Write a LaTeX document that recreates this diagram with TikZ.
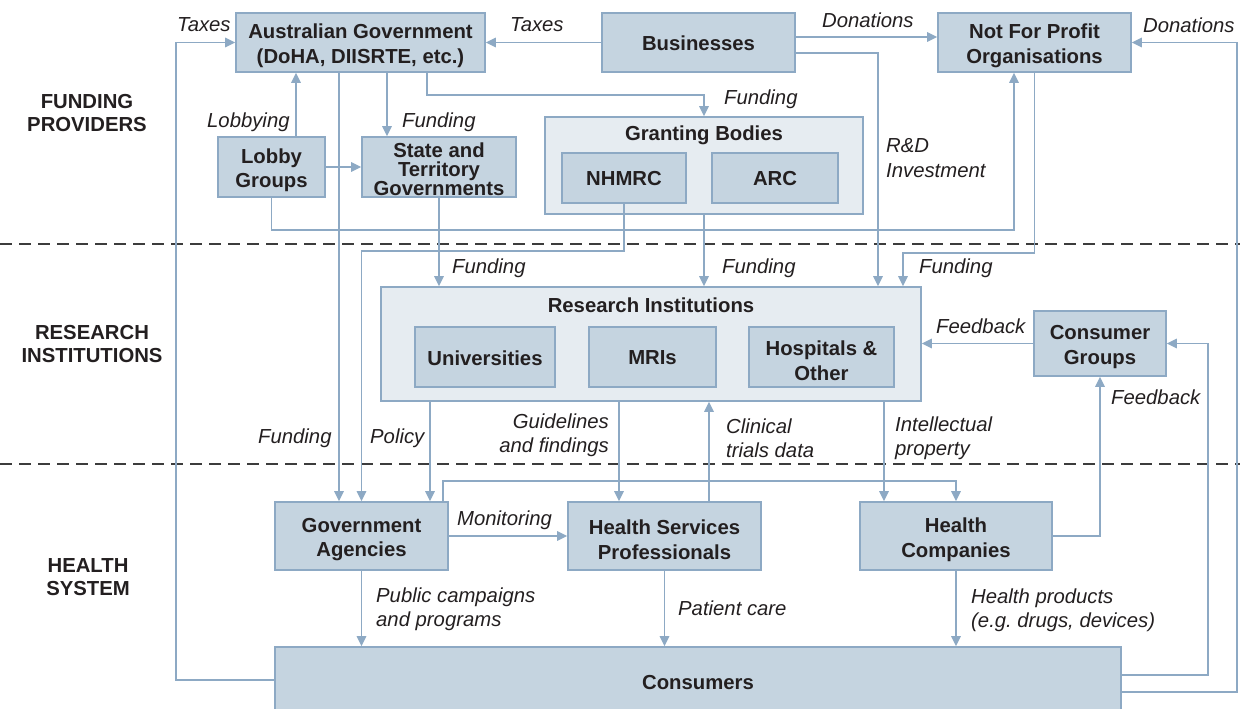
\documentclass[tikz,border=0pt]{standalone}
\usepackage{fontspec}
\setmainfont{Liberation Sans}
\usetikzlibrary{arrows.meta,calc}
\definecolor{boxfill}{HTML}{C5D4E0}
\definecolor{boxline}{HTML}{8DA9C4}
\definecolor{contfill}{HTML}{E6ECF1}
\definecolor{txt}{HTML}{231F20}
\definecolor{sepc}{HTML}{3C3C3C}
% box: name, x, y, width, height, text shift (down), text
\newcommand\bx[7]{%
  \node[box,minimum width=#4pt,minimum height=#5pt] (#1) at (#2,#3) {};
  \node[bt] (#1t) at ($(#1.center)+(0,#6)$) {#7};}
\begin{document}
\begin{tikzpicture}[x=1pt,y=-1pt,
  box/.style={draw=boxline,fill=boxfill,line width=1.6pt,inner sep=0pt},
  bt/.style={inner sep=0pt,align=center,font=\bfseries\fontsize{20.3}{24.5}\selectfont,text=txt},
  cont/.style={draw=boxline,fill=contfill,line width=1.6pt,inner sep=0pt},
  ttl/.style={font=\bfseries\fontsize{20.3}{24.5}\selectfont,text=txt,inner sep=0pt},
  lbl/.style={font=\itshape\fontsize{20.3}{24.5}\selectfont,text=txt,inner sep=0pt,anchor=west,align=left},
  sect/.style={font=\bfseries\fontsize{20.3}{23.5}\selectfont,text=txt,inner sep=0pt,align=center},
  conn/.style={draw=boxline,line width=1.5pt},
  arr/.style={conn,-{Triangle[length=10pt,width=9.5pt]}},
  sepline/.style={draw=sepc,line width=1.5pt,dash pattern=on 12pt off 7pt}]
\useasboundingbox (0,0) rectangle (1240,709);
\clip (0,0) rectangle (1240,709);

% separators
\coordinate (s1a) at (0,244); \coordinate (s1b) at (1240,244);
\coordinate (s2a) at (0,464); \coordinate (s2b) at (1240,464);
\draw[sepline] (s1a) -- (s1b);
\draw[sepline] (s2a) -- (s2b);

% section labels
\node[sect] (secf) at (87,113) {FUNDING\\PROVIDERS};
\node[sect] (secr) at (92,344) {RESEARCH\\INSTITUTIONS};
\node[sect] (sech) at (88,577) {HEALTH\\SYSTEM};

% containers
\node[cont,minimum width=318pt,minimum height=97pt] (gb) at (704,165.5) {};
\node[ttl] (gbt) at (704,135) {Granting Bodies};
\node[cont,minimum width=540pt,minimum height=114pt] (ri) at (651,344) {};
\node[ttl] (rit) at (651,305.5) {Research Institutions};

% boxes
\bx{ag}{360.5}{42.5}{249}{59}{3.5}{Australian Government\\(DoHA, DIISRTE, etc.)}
\bx{bus}{698.5}{42.5}{193}{59}{1}{Businesses}
\bx{nfp}{1034.5}{42.5}{193}{59}{3.5}{Not For Profit\\Organisations}
\bx{lobby}{271.5}{167}{107}{60}{3.5}{Lobby\\Groups}
\node[box,minimum width=154pt,minimum height=60pt] (state) at (439,167) {};
\node[bt,font=\bfseries\fontsize{20.3}{19}\selectfont] (statet) at ($(state.center)+(0,2.5)$) {State and\\Territory\\Governments};
\bx{nhmrc}{624}{178}{124}{50}{1}{NHMRC}
\bx{arc}{775}{178}{126}{50}{1}{ARC}
\bx{uni}{485}{357}{140}{60}{1}{Universities}
\bx{mri}{652.5}{357}{127}{60}{1}{MRIs}
\bx{hosp}{821.5}{357}{145}{60}{3.5}{Hospitals \&\\Other}
\bx{cg}{1100}{343.5}{132}{65}{3.5}{Consumer\\Groups}
\bx{ga}{361.5}{536}{173}{68}{3.5}{Government\\Agencies}
\bx{hsp}{664.5}{536}{193}{68}{3.5}{Health Services\\Professionals}
\bx{hc}{956}{536}{192}{68}{3.5}{Health\\Companies}
\bx{cons}{698}{682}{846}{70}{1}{Consumers}

% helper columns
\coordinate (xlob) at (296,0);
\coordinate (xsf) at (387,0);
\coordinate (xfund) at (339,0);
\coordinate (xgb) at (427,0);
\coordinate (xnl) at (1014,0);
\coordinate (xrd) at (878,0);
\coordinate (xnf) at (903,0);
\coordinate (xpol) at (430,0);
\coordinate (xgl) at (619,0);
\coordinate (xct) at (709,0);
\coordinate (xip) at (884,0);
\coordinate (xmon) at (443,0);

% connectors
\draw[arr] ([yshift=2pt]cons.west) -- ++(-98,0) |- (ag.west);
\draw[arr] (bus.west) -- (ag.east);
\draw[arr] ([yshift=5.5pt]bus.east) -- ([yshift=5.5pt]nfp.west);
\draw[arr] ([yshift=-10pt]cons.east) -- ++(115,0) |- (nfp.east);
\draw[arr] ([yshift=7pt]cons.east) -- ++(86,0) |- (cg.east);
\draw[arr] (lobby.north -| xlob) -- (ag.south -| xlob);
\draw[arr] (lobby.east) -- (state.west);
\draw[arr] (ag.south -| xsf) -- (state.north -| xsf);
\draw[arr] (ag.south -| xfund) -- (ga.north -| xfund);
\draw[arr] (ag.south -| xgb) -- ++(0,22) -| (gb.north);
\draw[arr] (lobby.south) -- ++(0,32) -| (nfp.south -| xnl);
\draw[arr] (state.south) -- (state.south |- ri.north);
\draw[arr] (gb.south) -- (gb.south |- ri.north);
\draw[arr] (nhmrc.south) -- ++(0,47) -| (ga.north);
\draw[arr] ([yshift=-10.5pt]bus.east) -| (ri.north -| xrd);
\draw[arr] (nfp.south) -- ++(0,180) -| (ri.north -| xnf);
\draw[arr] (hc.east) -| (cg.south);
\draw[arr] (cg.west) -- (cg.west -| ri.east);
\draw[arr] (ri.south -| xpol) -- (ga.north -| xpol);
\draw[arr] (ri.south -| xgl) -- (hsp.north -| xgl);
\draw[arr] (hsp.north -| xct) -- (ri.south -| xct);
\draw[arr] (ri.south -| xip) -- (hc.north -| xip);
\draw[arr] (ga.north -| xmon) -- ++(0,-20) -| (hc.north);
\draw[arr] (ga.east) -- (hsp.west);
\draw[arr] (ga.south) -- (ga.south |- cons.north);
\draw[arr] (hsp.south) -- (hsp.south |- cons.north);
\draw[arr] (hc.south) -- (hc.south |- cons.north);

% labels
\node[lbl] (l1) at (177,25) {Taxes};
\node[lbl] (l2) at (510,25) {Taxes};
\node[lbl] (l3) at (822,20) {Donations};
\node[lbl] (l4) at (1143,25) {Donations};
\node[lbl] (l5) at (207,122) {Lobbying};
\node[lbl] (l6) at (402,122) {Funding};
\node[lbl] (l7) at (724,99) {Funding};
\node[lbl] (l8) at (886,158) {R\&D\\Investment};
\node[lbl] (l9) at (452,268) {Funding};
\node[lbl] (l10) at (722,268) {Funding};
\node[lbl] (l11) at (919,268) {Funding};
\node[lbl] (l12) at (936,326) {Feedback};
\node[lbl] (l13) at (1111,397) {Feedback};
\node[lbl] (l14) at (258,438) {Funding};
\node[lbl] (l15) at (370,438) {Policy};
\node[lbl,anchor=east,align=right] (l16) at (609,435) {Guidelines\\and findings};
\node[lbl] (l17) at (726,438) {Clinical\\trials data};
\node[lbl] (l18) at (895,438) {Intellectual\\property};
\node[lbl] (l19) at (457,520) {Monitoring};
\node[lbl] (l20) at (376,609) {Public campaigns\\and programs};
\node[lbl] (l21) at (678,608) {Patient care};
\node[lbl] (l22) at (971,610) {Health products\\(e.g.\ drugs, devices)};
\end{tikzpicture}
\end{document}
